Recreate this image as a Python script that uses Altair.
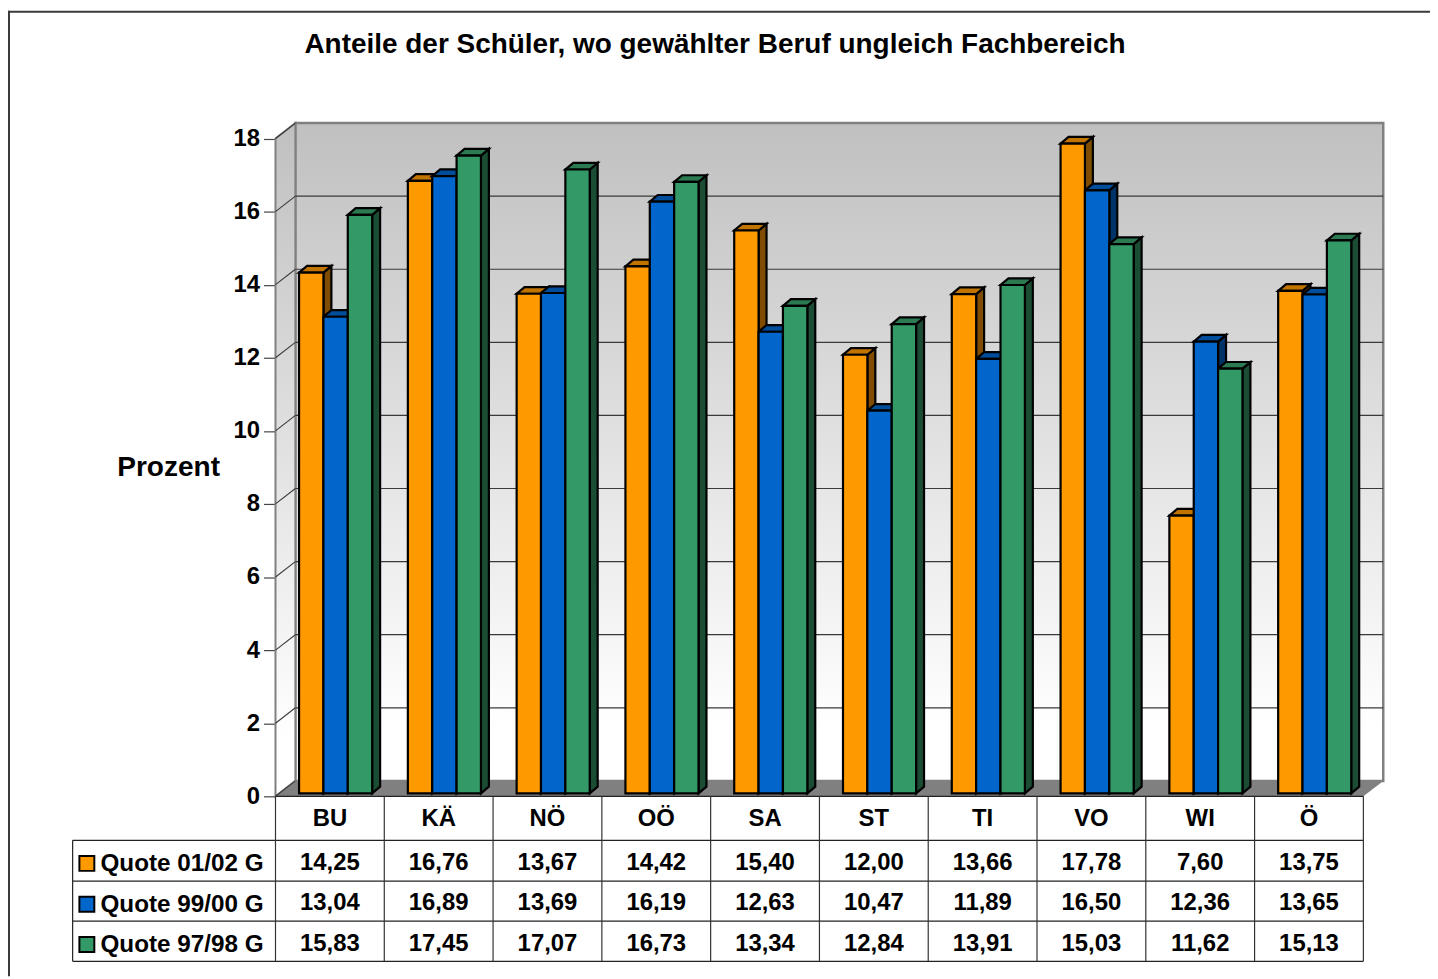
import altair as alt
import pandas as pd

# ---- data ----
categories = ["BU", "KÄ", "NÖ", "OÖ", "SA", "ST", "TI", "VO", "WI", "Ö"]
series_names = ["Quote 01/02 G", "Quote 99/00 G", "Quote 97/98 G"]
quote_0102 = [14.25, 16.76, 13.67, 14.42, 15.40, 12.00, 13.66, 17.78, 7.60, 13.75]
quote_9900 = [13.04, 16.89, 13.69, 16.19, 12.63, 10.47, 11.89, 16.50, 12.36, 13.65]
quote_9798 = [15.83, 17.45, 17.07, 16.73, 13.34, 12.84, 13.91, 15.03, 11.62, 15.13]
series_values = [quote_0102, quote_9900, quote_9798]
front_colors = ["#FF9900", "#0066CC", "#339966"]
top_colors = ["#C27400", "#004D9B", "#2B7A52"]
side_colors = ["#804D00", "#003366", "#1A4D33"]
y_ticks = list(range(0, 20, 2))

FONT = "Liberation Sans"
# layout (pixels inside the chart); the plot group starts at the front wall
X0, PX_CAT = 269.0, 109.4      # left padding, width of one category
Y0, PX_UNIT = 790.0, 36.75     # front floor y, pixels per percent
W_PX, H_PX = 1430, 971

def ux(px):   # pixel length -> category units
    return px / PX_CAT
def uy(px):   # pixel length -> percent units
    return px / PX_UNIT

WALL_DX, WALL_DY = ux(20), uy(15.5)
BAR_DX, BAR_DY = ux(8), uy(6.7)
BAR_START, BAR_W, BAR_BASE = ux(23.7), ux(24.5), uy(3)

value_axis = alt.Axis(
    values=y_ticks, domain=False, grid=False, format="d",
    tickSize=12, tickColor="#444444", tickWidth=1.2, labelPadding=4,
    labelFont=FONT, labelFontSize=24, labelFontWeight="bold", labelColor="#000000",
    title="Prozent", titleFont=FONT, titleFontSize=28.2, titleFontWeight="bold",
    titleColor="#000000", titleAngle=0, titleAlign="center", titleBaseline="middle",
    titleX=-108, titleY=459,
)
x_scale = alt.Scale(domain=[0, 10], range=[0, 10 * PX_CAT], nice=False, zero=False)
y_scale = alt.Scale(domain=[0, 18], range=[Y0, Y0 - 18 * PX_UNIT], nice=False, zero=False)
X = lambda f: alt.X(f, type="quantitative", scale=x_scale, axis=None)
Y = lambda f: alt.Y(f, type="quantitative", scale=y_scale, axis=value_axis)

wall_gradient = alt.Gradient(
    gradient="linear", x1=0, x2=0, y1=0, y2=1,
    stops=[alt.GradientStop(offset=0, color="#C0C0C0"),
           alt.GradientStop(offset=0.92, color="#FFFFFF"),
           alt.GradientStop(offset=1, color="#FFFFFF")],
)

# ---- walls and floor ----
back_wall = alt.Chart(pd.DataFrame({"x": [WALL_DX], "x2": [10 + WALL_DX], "y": [WALL_DY], "y2": [18 + WALL_DY]})).mark_rect(
    color=wall_gradient, stroke="#808080", strokeWidth=2.5
).encode(x=X("x"), x2="x2", y=Y("y"), y2="y2")

left_wall = alt.Chart(pd.DataFrame({"x": [0, WALL_DX], "y": [0, WALL_DY], "y2": [18, 18 + WALL_DY]})).mark_area(
    color=wall_gradient, stroke="#808080", strokeWidth=2
).encode(x=X("x"), y=Y("y"), y2="y2")

floor = alt.Chart(pd.DataFrame({
    "x": [0, WALL_DX, 10, 10 + WALL_DX],
    "y": [0, 0, 0, WALL_DY],
    "y2": [0, WALL_DY, WALL_DY, WALL_DY],
})).mark_area(color="#808080").encode(x=X("x"), y=Y("y"), y2="y2")

grid_df = pd.DataFrame({"v": [t + WALL_DY for t in y_ticks[1:-1]],
                        "x1": [WALL_DX] * 8, "x2": [10 + WALL_DX] * 8})
back_grid = alt.Chart(grid_df).mark_rule(color="#3A3A3A", strokeWidth=1.2).encode(x=X("x1"), x2="x2", y=Y("v"))

diag_df = pd.DataFrame({"x": [0.0] * len(y_ticks), "x2": [WALL_DX] * len(y_ticks),
                        "y": y_ticks, "y2": [t + WALL_DY for t in y_ticks]})
left_grid = alt.Chart(diag_df).mark_rule(color="#3A3A3A", strokeWidth=1.1).encode(
    x=X("x"), x2="x2", y=Y("y"), y2="y2")

# ---- 3D bars ----
side_rows, top_rows, front_rows = [], [], []
for s, vals in enumerate(series_values):
    for i, v in enumerate(vals):
        xl = i + BAR_START + s * BAR_W
        xr = xl + BAR_W
        b, t = BAR_BASE, v + BAR_BASE
        bid = f"{i}-{s}"
        front_rows.append(dict(x=xl, x2=xr, y=b, y2=t, k=series_names[s], value=v))
        for px, y1, y2 in [(xr, b, t), (xr + BAR_DX, b + BAR_DY, t + BAR_DY)]:
            side_rows.append(dict(x=px, y=y1, y2=y2, k=f"side{s}", bid=bid))
        for px, y1, y2 in [(xl, t, t), (xl + BAR_DX, t, t + BAR_DY),
                           (xr, t, t + BAR_DY), (xr + BAR_DX, t + BAR_DY, t + BAR_DY)]:
            top_rows.append(dict(x=px, y=y1, y2=y2, k=f"top{s}", bid=bid))

def faces(rows, prefix, colors):
    return alt.Chart(pd.DataFrame(rows)).mark_area(
        stroke="#000000", strokeWidth=2.2, strokeJoin="miter"
    ).encode(
        x=X("x"), y=Y("y"), y2="y2",
        detail="bid:N",
        fill=alt.Fill("k:N", legend=None,
                      scale=alt.Scale(domain=[f"{prefix}{j}" for j in range(3)], range=colors)),
    )

sides = faces(side_rows, "side", side_colors)
tops = faces(top_rows, "top", top_colors)
fronts = alt.Chart(pd.DataFrame(front_rows)).mark_rect(
    stroke="#000000", strokeWidth=2.2, strokeJoin="miter"
).encode(
    x=X("x"), x2="x2", y=Y("y"), y2="y2",
    fill=alt.Fill("k:N", legend=None, scale=alt.Scale(domain=series_names, range=front_colors)),
)

# ---- data table below the plot ----
row_tops_px = [834.3, 875.3, 915.6, 956.0]   # bottom edges of header and rows
row_y = [-uy(p - Y0) for p in row_tops_px]
TABLE_LEFT = -ux(X0 - 65)
h_df = pd.DataFrame({"x": [TABLE_LEFT] * 4 + [0.0], "x2": [10.0] * 5, "y": row_y + [0.0]})
h_lines = alt.Chart(h_df).mark_rule(color="#222222", strokeWidth=1.2).encode(x=X("x"), x2="x2", y=Y("y"))
v_df = pd.DataFrame({"x": [float(i) for i in range(11)], "y": [0.0] * 11, "y2": [row_y[3]] * 11})
v_lines = alt.Chart(v_df).mark_rule(color="#333333", strokeWidth=1.2).encode(x=X("x"), y=Y("y"), y2="y2")
v_left = alt.Chart(pd.DataFrame({"x": [TABLE_LEFT], "y": [row_y[0]], "y2": [row_y[3]]})).mark_rule(
    color="#222222", strokeWidth=1.2).encode(x=X("x"), y=Y("y"), y2="y2")

text_mark = dict(font=FONT, fontWeight="bold", color="#000000", baseline="middle")
header = alt.Chart(pd.DataFrame({
    "x": [i + 0.5 for i in range(10)],
    "y": [-uy(813 - Y0) for _ in range(10)],
    "t": categories,
})).mark_text(fontSize=24, align="center", **text_mark).encode(x=X("x"), y=Y("y"), text="t:N")

cell_px = [857.5, 897.5, 938.5]
cell_rows = []
for s, vals in enumerate(series_values):
    for i, v in enumerate(vals):
        cell_rows.append(dict(x=i + 0.5, y=-uy(cell_px[s] - Y0), t=f"{v:.2f}".replace(".", ",")))
cells = alt.Chart(pd.DataFrame(cell_rows)).mark_text(fontSize=24, align="center", **text_mark).encode(
    x=X("x"), y=Y("y"), text="t:N")

label_px = [858.5, 899.5, 940.0]
key_px = [857.5, 898.5, 939.0]
row_labels = alt.Chart(pd.DataFrame({
    "x": [-ux(X0 - 93)] * 3,
    "y": [-uy(p - Y0) for p in label_px],
    "t": series_names,
})).mark_text(fontSize=24.4, align="left", **text_mark).encode(x=X("x"), y=Y("y"), text="t:N")

keys = alt.Chart(pd.DataFrame({
    "x": [-ux(X0 - 79.3)] * 3,
    "y": [-uy(p - Y0) for p in key_px],
    "k": series_names,
})).mark_point(shape="square", filled=True, size=225, stroke="#000000", strokeWidth=2, opacity=1).encode(
    x=X("x"), y=Y("y"),
    fill=alt.Fill("k:N", legend=None, scale=alt.Scale(domain=series_names, range=front_colors)),
)

# ---- title and outer frame ----
title = alt.Chart(pd.DataFrame({"t": ["Anteile der Schüler, wo gewählter Beruf ungleich Fachbereich"]})).mark_text(
    fontSize=28.1, align="center", **text_mark
).encode(x=alt.value(711 - X0), y=alt.value(34.5), text="t:N")

frame = alt.Chart(pd.DataFrame({"x": [0]})).mark_rule(color="#3A3A3A", strokeWidth=2).encode(
    x=alt.value(1 - X0), y=alt.value(0), y2=alt.value(H_PX))
frame_top = alt.Chart(pd.DataFrame({"x": [0]})).mark_rule(color="#3A3A3A", strokeWidth=2).encode(
    y=alt.value(1), x=alt.value(-X0), x2=alt.value(W_PX - X0))

chart = alt.layer(
    frame, frame_top, back_wall, left_wall, floor, back_grid, left_grid,
    sides, tops, fronts, h_lines, v_lines, v_left, header, cells, row_labels, keys, title,
).resolve_scale(fill="independent").properties(
    width=W_PX - int(X0), height=H_PX,
    padding={"left": X0, "top": 0, "right": 0, "bottom": 0},
    autosize=alt.AutoSizeParams(type="none"),
).configure_view(stroke=None)

chart.save("out.html", embed_options={"renderer": "svg", "actions": False})
